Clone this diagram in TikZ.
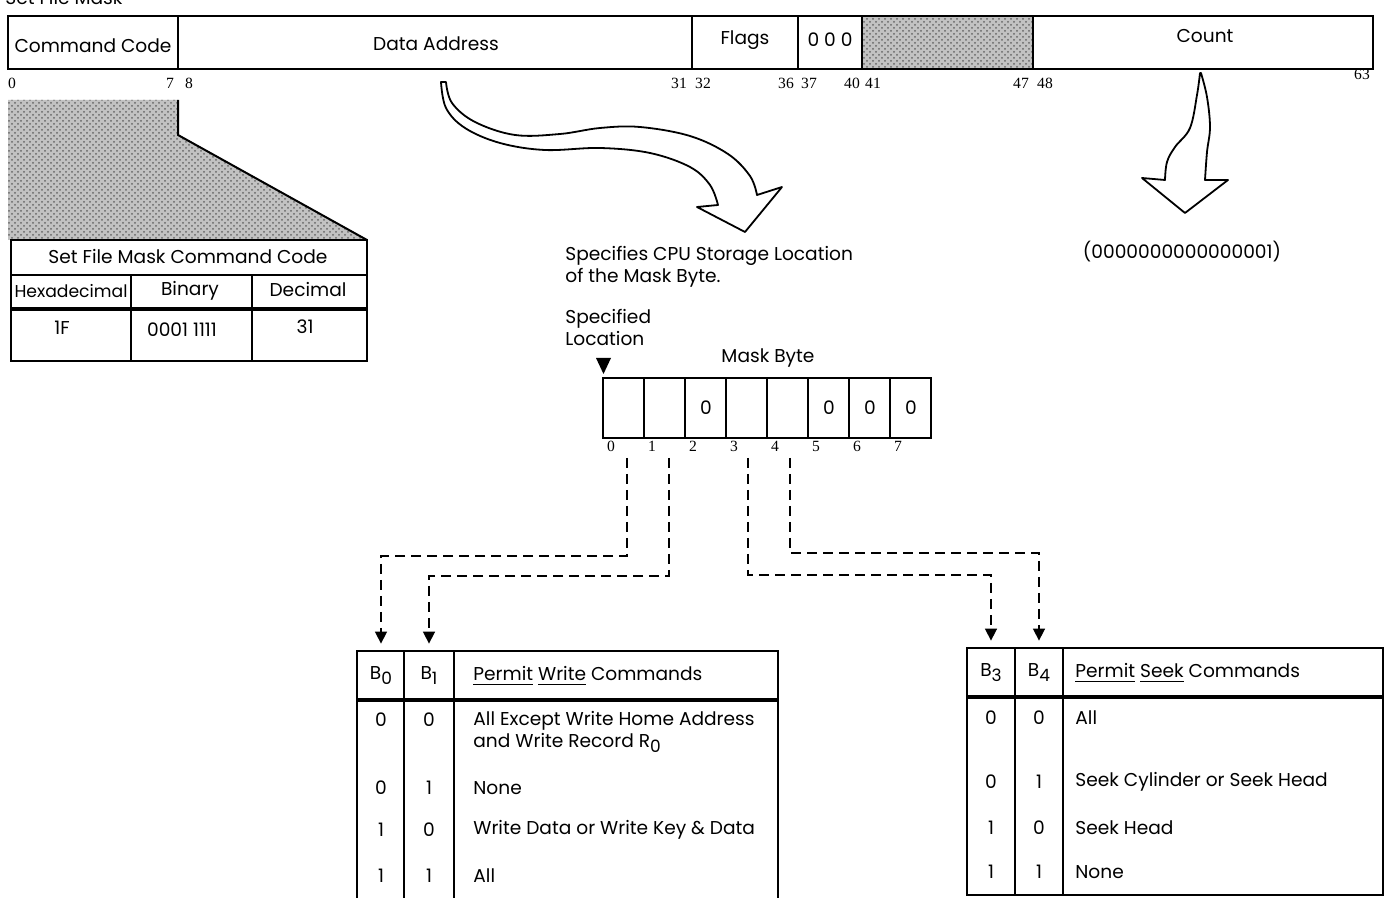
\documentclass[tikz,border=0pt]{standalone}
\usepackage{fontspec}
\setmainfont{Poppins}
\newfontfamily\numfont{Liberation Serif}
\usetikzlibrary{arrows.meta, patterns}
\tikzset{
  txt/.style={font=\fontsize{9.3}{11}\selectfont, inner sep=0pt},
  num/.style={font=\numfont\fontsize{7.8}{8}\selectfont, inner sep=0pt, anchor=base},
  hdr/.style={txt, minimum height=24.5pt},
  frame/.style={line width=1pt},
  rule/.style={line width=1.7pt},
  screen/.style={fill=black!24, postaction={pattern=crosshatch dots, pattern color=black!60}},
  hollow/.style={line width=0.9pt, fill=white, line join=round},
  dlink/.style={line width=0.8pt, dash pattern=on 5pt off 3pt,
                -{Triangle[length=6pt,width=6pt]}, shorten >=3.5pt},
}
\newcommand{\sub}[1]{\raisebox{-0.5ex}{\fontsize{8.5}{8}\selectfont #1}}
\begin{document}
\begin{tikzpicture}[x=0.5pt, y=-0.5pt]
\useasboundingbox (0,0) rectangle (1389,898);
\node[txt, anchor=base west] (title) at (5,5) {Set File Mask};

% channel command word
\fill[screen] (862,16) rectangle (1033,69);
\draw[frame] (8,16) rectangle (1373,69);
\foreach \x in {178,692,798,862,1033}
  \draw[frame] (\x,16) -- (\x,69);
\node[txt] (cmd) at (93,46) {Command Code};
\node[txt] (addr) at (436,44) {Data Address};
\node[txt] (flags) at (745,40) {Flags};
\node[txt] (zeros) at (830,40) {0 0 0};
\node[txt] (count) at (1205,36) {Count};
\foreach \x/\n in {12/0,170/7,189/8,679/31,703/32,786/36,809/37,852/40,873/41,1021/47,1045/48}
  \node[num] (p\n) at (\x,89) {\n};
\node[num] (p63) at (1362,80) {63};

% command code blow-up
\fill[screen] (8,100) -- (178,100) -- (178,135) -- (367,240) -- (8,240) -- cycle;
\draw[frame] (178,100) -- (178,135) -- (367,240);
\draw[frame] (11,240) rectangle (367,361);
\draw[frame] (11,275) -- (367,275);
\draw[rule] (11,309) -- (367,309);
\draw[frame] (131,275) -- (131,361);
\draw[frame] (252,275) -- (252,361);
\node[txt] (cctitle) at (188,257) {Set File Mask Command Code};
\node[txt, font=\fontsize{8.6}{10}\selectfont] (hex) at (71,291) {Hexadecimal};
\node[txt] (bin) at (190,291) {Binary};
\node[txt] (dec) at (308,290) {Decimal};
\node[txt] (hexv) at (62,328) {1F};
\node[txt] (binv) at (182,330) {0001 1111};
\node[txt] (decv) at (305,327) {31};

% hollow arrows
\draw[hollow] plot[smooth, tension=0.6] coordinates {(446,82) (452,103) (475,122) (515,135)
    (560,134) (600,128) (640,127) (690,136) (728,154) (750,176) (757,195)}
  -- (782,187) -- (745,232) -- (697,207) -- (718,205)
  -- plot[smooth, tension=0.6] coordinates {(718,205) (710,185) (690,167) (650,153)
    (600,148) (545,150) (500,143) (465,128) (446,108) (441,82)} -- cycle;
\draw[hollow] plot[smooth, tension=0.6] coordinates {(1201,73) (1207,97) (1210,127)
    (1207,152) (1205,180)}
  -- (1228,180) -- (1185,213) -- (1142,178) -- (1165,180)
  -- plot[smooth, tension=0.6] coordinates {(1165,180) (1167,162) (1175,147) (1190,128)
    (1197,95) (1200,73)} -- cycle;

\node[txt, align=left, anchor=north west] (spec) at (565,246)
  {Specifies CPU Storage Location\\of the Mask Byte.};
\node[txt] (cntval) at (1182,252) {(0000000000000001)};

% mask byte
\node[txt, align=left, anchor=north west] (loc) at (565,309) {Specified\\Location};
\fill (596,358) -- (611,358) -- (603.5,374) -- cycle;
\node[txt] (mbyte) at (768,358) {Mask Byte};
\draw[frame] (603,378) rectangle (931,438);
\foreach \i in {1,...,7}
  \draw[frame] ({603+41*\i},378) -- ({603+41*\i},438);
\foreach \i in {2,5,6,7}
  \node[txt] (z\i) at ({624+41*\i},408) {0};
\foreach \i in {0,...,7}
  \node[num] (m\i) at ({611+41*\i},452) {\i};
\coordinate (d0) at (627,458);
\coordinate (d1) at (669,458);
\coordinate (d3) at (748,458);
\coordinate (d4) at (790,458);

% permit write table
\draw[frame] (357,905) -- (357,651) -- (778,651) -- (778,905);
\draw[frame] (404,651) -- (404,905);
\draw[frame] (454,651) -- (454,905);
\draw[rule] (357,700) -- (778,700);
\node[hdr] (b0) at (381,675.5) {B\sub{0}};
\node[hdr] (b1) at (429,675.5) {B\sub{1}};
\node[txt, anchor=west] (wtit) at (473,676) {\underline{Permit} \underline{Write} Commands};
\foreach \y/\a/\b [count=\k] in {720/0/0,788/0/1,830/1/0,876/1/1} {
  \node[txt] (wa\k) at (381,\y) {\a};
  \node[txt] (wb\k) at (429,\y) {\b};
}
\node[txt, anchor=north west, align=left] (w1) at (473,711)
  {All Except Write Home Address\\and Write Record R\sub{0}};
\node[txt, anchor=west] (w2) at (473,788) {None};
\node[txt, anchor=west] (w3) at (473,830) {Write Data or Write Key \& Data};
\node[txt, anchor=west] (w4) at (473,876) {All};

% permit seek table
\draw[frame] (967,648) rectangle (1383,895);
\draw[frame] (1015,648) -- (1015,895);
\draw[frame] (1063,648) -- (1063,895);
\draw[rule] (967,697) -- (1383,697);
\node[hdr] (b3) at (991,672.5) {B\sub{3}};
\node[hdr] (b4) at (1039,672.5) {B\sub{4}};
\node[txt, anchor=west] (stit) at (1075,673) {\underline{Permit} \underline{Seek} Commands};
\foreach \y/\a/\b [count=\k] in {718/0/0,782/0/1,828/1/0,872/1/1} {
  \node[txt] (sa\k) at (991,\y) {\a};
  \node[txt] (sb\k) at (1039,\y) {\b};
}
\node[txt, anchor=west] (s1) at (1075,718) {All};
\node[txt, anchor=west] (s2) at (1075,782) {Seek Cylinder or Seek Head};
\node[txt, anchor=west] (s3) at (1075,828) {Seek Head};
\node[txt, anchor=west] (s4) at (1075,872) {None};

% bit routing
\draw[dlink] (d0) -- ++(0,98) -| (b0.north);
\draw[dlink] (d1) -- ++(0,118) -| (b1.north);
\draw[dlink] (d3) -- ++(0,117) -| (b3.north);
\draw[dlink] (d4) -- ++(0,95) -| (b4.north);
\end{tikzpicture}
\end{document}
